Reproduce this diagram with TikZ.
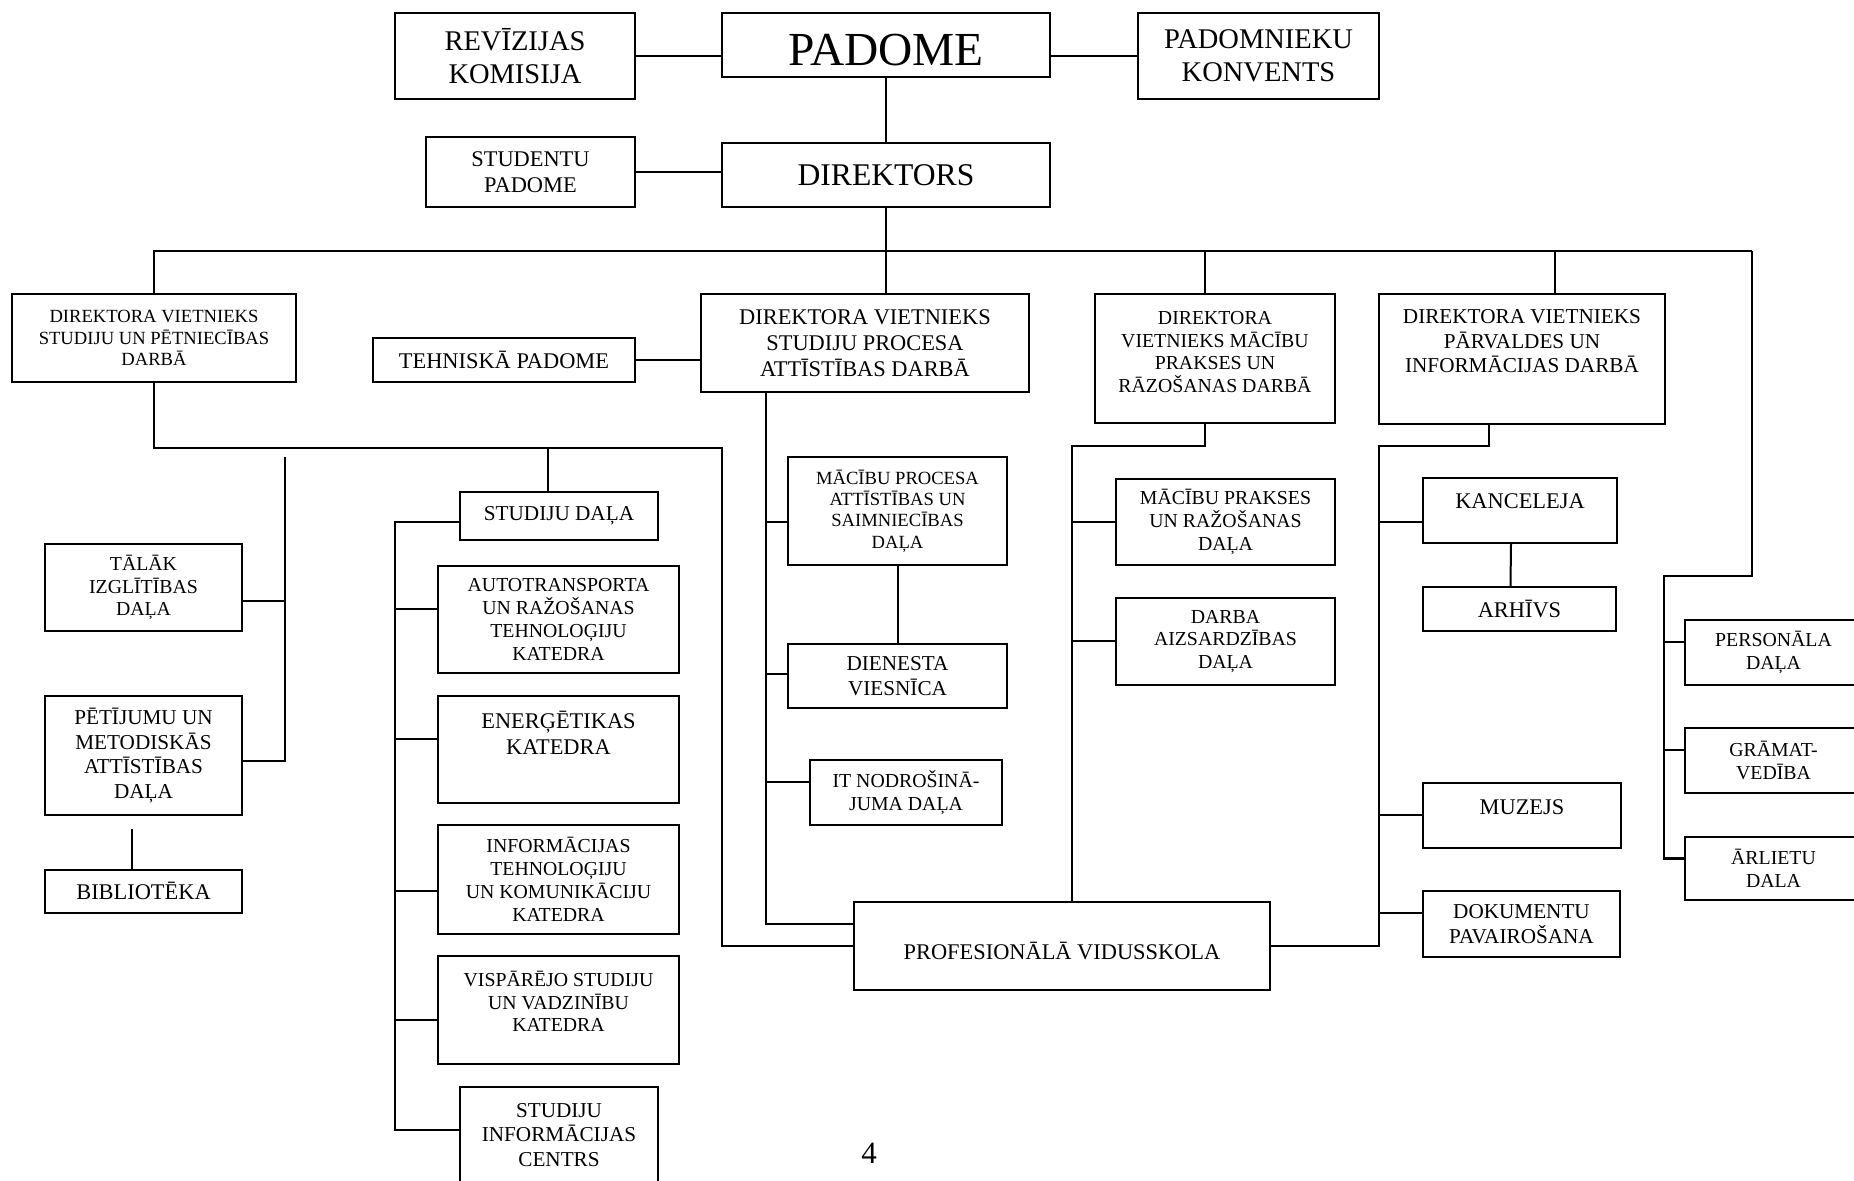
\documentclass[tikz,border=0pt]{standalone}
\usepackage{fontspec}
\setmainfont{Liberation Serif}

\begin{document}
\begin{tikzpicture}[x=0.5pt,y=-0.5pt,line width=1pt]
        \tikzstyle{box}=[draw, align=center, inner sep=0pt]
        \tikzstyle{fA}=[font=\fontsize{9.3pt}{10.7pt}\selectfont]
        \tikzstyle{fB}=[font=\fontsize{9.9pt}{11.4pt}\selectfont]
        \tikzstyle{fC}=[font=\fontsize{10.6pt}{12.2pt}\selectfont]
        \tikzstyle{fD}=[font=\fontsize{11.2pt}{12.9pt}\selectfont]
        \tikzstyle{fE}=[font=\fontsize{14.25pt}{16.6pt}\selectfont]
        \useasboundingbox (0,0) rectangle (1854,1181);

        % Council and director
        \node[box, fE, minimum width=120pt, minimum height=43pt] (rev) at (515,56) {REVĪZIJAS\\KOMISIJA};
        \node[box, font=\fontsize{23.7pt}{27pt}\selectfont, text height=20.7pt, text depth=0pt, minimum width=164pt, minimum height=32pt] (pad) at (886,45) {PADOME};
        \node[box, fE, minimum width=120.5pt, minimum height=43pt] (konv) at (1258.5,56) {PADOMNIEKU\\KONVENTS};
        \node[box, fD, minimum width=104.5pt, minimum height=35pt] (stud) at (530.5,172) {STUDENTU\\PADOME};
        \node[box, font=\fontsize{15.8pt}{18pt}\selectfont, minimum width=164pt, minimum height=32pt] (dir) at (886,175) {DIREKTORS};

        % Deputies
        \node[box, fA, minimum width=142pt, minimum height=44pt] (dvs) at (154,338) {DIREKTORA VIETNIEKS\\STUDIJU UN PĒTNIECĪBAS\\DARBĀ};
        \node[box, fD, minimum width=131pt, minimum height=22pt] (teh) at (504,360) {TEHNISKĀ PADOME};
        \node[box, fD, minimum width=164pt, minimum height=49pt] (dvsp) at (865,343) {DIREKTORA VIETNIEKS\\STUDIJU PROCESA\\ATTĪSTĪBAS DARBĀ};
        \node[box, fB, minimum width=120pt, minimum height=64.5pt] (dvm) at (1215,358.5) {DIREKTORA\\VIETNIEKS MĀCĪBU\\PRAKSES UN\\RĀZOŠANAS DARBĀ\\[-4.9pt]~};
        \node[box, fC, minimum width=143pt, minimum height=65pt] (dvp) at (1522,359.5) {DIREKTORA VIETNIEKS\\PĀRVALDES UN\\INFORMĀCIJAS DARBĀ\\[6.3pt]~};

        % Left branch
        \node[box, fB, minimum width=98.5pt, minimum height=43.5pt] (talak) at (143.5,587.5) {TĀLĀK\\IZGLĪTĪBAS\\DAĻA};
        \node[box, fC, minimum width=98.5pt, minimum height=59.5pt] (pet) at (143.5,755.5) {PĒTĪJUMU UN\\METODISKĀS\\ATTĪSTĪBAS\\DAĻA};
        \node[box, fD, minimum width=98.5pt, minimum height=21.5pt] (bib) at (143.5,891) {BIBLIOTĒKA};
        \node[box, fC, minimum width=99pt, minimum height=24pt] (stdala) at (559,516) {STUDIJU DAĻA};
        \node[box, fB, minimum width=120.5pt, minimum height=53.5pt] (auto) at (558.5,619.5) {AUTOTRANSPORTA\\UN RAŽOŠANAS\\TEHNOLOĢIJU\\KATEDRA};
        \node[box, fD, minimum width=120.5pt, minimum height=53.5pt] (ener) at (558.5,749.5) {ENERĢĒTIKAS\\KATEDRA\\[3.6pt]~};
        \node[box, fB, minimum width=120.5pt, minimum height=54.5pt] (infot) at (558.5,879.5) {INFORMĀCIJAS\\TEHNOLOĢIJU\\UN KOMUNIKĀCIJU\\KATEDRA};
        \node[box, fB, minimum width=120.5pt, minimum height=54pt] (visp) at (558.5,1010) {VISPĀRĒJO STUDIJU\\UN VADZINĪBU\\KATEDRA\\[-2.9pt]~};
        \node[box, fC, minimum width=99pt, minimum height=48pt] (sic) at (559,1135) {STUDIJU\\INFORMĀCIJAS\\CENTRS};

        % Middle branch
        \node[box, fA, minimum width=109.5pt, minimum height=54pt] (mpa) at (897.5,511) {MĀCĪBU PROCESA\\ATTĪSTĪBAS UN\\SAIMNIECĪBAS\\DAĻA};
        \node[box, fC, minimum width=109.5pt, minimum height=32pt] (dien) at (897.5,676) {DIENESTA\\VIESNĪCA};
        \node[box, fB, minimum width=96pt, minimum height=32.5pt] (itn) at (906,792.5) {IT NODROŠINĀ-\\JUMA DAĻA};
        \node[box, fD, text height=13.4pt, text depth=0pt, minimum width=208pt, minimum height=44pt] (prof) at (1062,946) {PROFESIONĀLĀ VIDUSSKOLA};
        \node[box, fB, minimum width=109.5pt, minimum height=43pt] (mpr) at (1225.5,522) {MĀCĪBU PRAKSES\\UN RAŽOŠANAS\\DAĻA};
        \node[box, fB, minimum width=109.5pt, minimum height=43.5pt] (darba) at (1225.5,641.5) {DARBA\\AIZSARDZĪBAS\\DAĻA};

        % Right branch
        \node[box, fD, minimum width=97pt, minimum height=32.5pt] (kanc) at (1520,510.5) {KANCELEJA\\[-3.9pt]~};
        \node[box, fD, minimum width=96.5pt, minimum height=22pt] (arh) at (1519.5,609) {ARHĪVS};
        \node[box, fD, minimum width=99pt, minimum height=32.5pt] (muz) at (1522,815.5) {MUZEJS\\[-4pt]~};
        \node[box, fC, minimum width=98.5pt, minimum height=33pt] (dok) at (1521.5,924) {DOKUMENTU\\PAVAIROŠANA};
        \node[box, fB, minimum width=88.5pt, minimum height=32.5pt] (pers) at (1773.5,652.5) {PERSONĀLA\\DAĻA};
        \node[box, fB, minimum width=88.5pt, minimum height=32.5pt] (gram) at (1773.5,760.5) {GRĀMAT-\\VEDĪBA};
        \node[box, fB, minimum width=88.5pt, minimum height=31.5pt] (arl) at (1773.5,868.5) {ĀRLIETU\\DALA};

        % Page number
        \node[font=\fontsize{15.5pt}{18pt}\selectfont] (pagenum) at (869,1153) {4};

        % Council links
        \draw (rev.east) -- (rev.east -| pad.west);
        \draw (konv.west) -- (konv.west -| pad.east);
        \draw (pad.south) -- (dir.north);
        \draw (stud.east) -- (stud.east -| dir.west);

        % Main bus
        \coordinate (busL) at (154,251);
        \coordinate (busR) at (1752,251);
        \draw (dvs.north) -- (busL) -- (busR);
        \draw (dir.south) -- (dir.south |- dvsp.north);
        \draw ([xshift=-5.25pt]dvm.north |- busL) -- ([xshift=-5.25pt]dvm.north);
        \draw ([xshift=16.5pt]dvp.north |- busL) -- ([xshift=16.5pt]dvp.north);
        \draw (teh.east) -- (teh.east -| dvsp.west);

        % Studies and research
        \coordinate (lbus) at (722,448);
        \draw (dvs.south) |- (lbus) -- (lbus |- prof.west) -- (prof.west);
        \draw ([xshift=-5.5pt]stdala.north |- lbus) -- ([xshift=-5.5pt]stdala.north);
        \coordinate (tsp) at (285,457);
        \draw (tsp) -- ([yshift=-2.75pt]pet.east -| tsp) -- ([yshift=-2.75pt]pet.east);
        \draw ([yshift=-6.75pt]talak.east -| tsp) -- ([yshift=-6.75pt]talak.east);
        \draw ([xshift=-5.9pt,yshift=-6.5pt]pet.south) -- ([xshift=-5.9pt,yshift=-1pt]bib.north);

        % Departments
        \coordinate (ssp) at (395,522);
        \draw ([yshift=-3pt]stdala.west) -- (ssp) -- ([yshift=2.75pt]sic.west -| ssp) -- ([yshift=2.75pt]sic.west);
        \foreach \n/\s in {auto/5pt, ener/5.25pt, infot/-5.75pt, visp/-5pt}
            \draw ([yshift=\s]\n.west -| ssp) -- ([yshift=\s]\n.west);

        % Study process
        \coordinate (vsp) at (766,924);
        \draw ([xshift=-49.5pt]dvsp.south) -- (vsp) -- (vsp -| prof.west);
        \foreach \n/\s in {mpa/-5.5pt, dien/1pt, itn/5.25pt}
            \draw ([yshift=\s]\n.west -| vsp) -- ([yshift=\s]\n.west);
        \draw (mpa.south) -- (dien.north);

        % Practice and production
        \coordinate (msp) at (1072,446);
        \draw ([xshift=-5.25pt]dvm.south) |- (msp) -- (msp |- prof.north);
        \draw (mpr.west -| msp) -- (mpr.west);
        \draw (darba.west -| msp) -- (darba.west);

        % Administration
        \coordinate (psp) at (1379,446);
        \draw ([xshift=-16.5pt]dvp.south) |- (psp) -- (psp |- prof.east) -- (prof.east);
        \foreach \n/\s in {kanc/-5.9pt, muz/0pt, dok/5.5pt}
            \draw ([yshift=\s]\n.west -| psp) -- ([yshift=\s]\n.west);
        \draw ([xshift=-4.5pt]kanc.south) -- ([xshift=-4.5pt]arh.north);

        % Finance and staff
        \coordinate (rsp) at (1664,576);
        \draw (busR) |- (rsp) -- ([yshift=5pt]arl.west -| rsp) -- ([yshift=5pt]arl.west);
        \draw ([yshift=5.25pt]pers.west -| rsp) -- ([yshift=5.25pt]pers.west);
        \draw ([yshift=5.25pt]gram.west -| rsp) -- ([yshift=5.25pt]gram.west);
\end{tikzpicture}
\end{document}
